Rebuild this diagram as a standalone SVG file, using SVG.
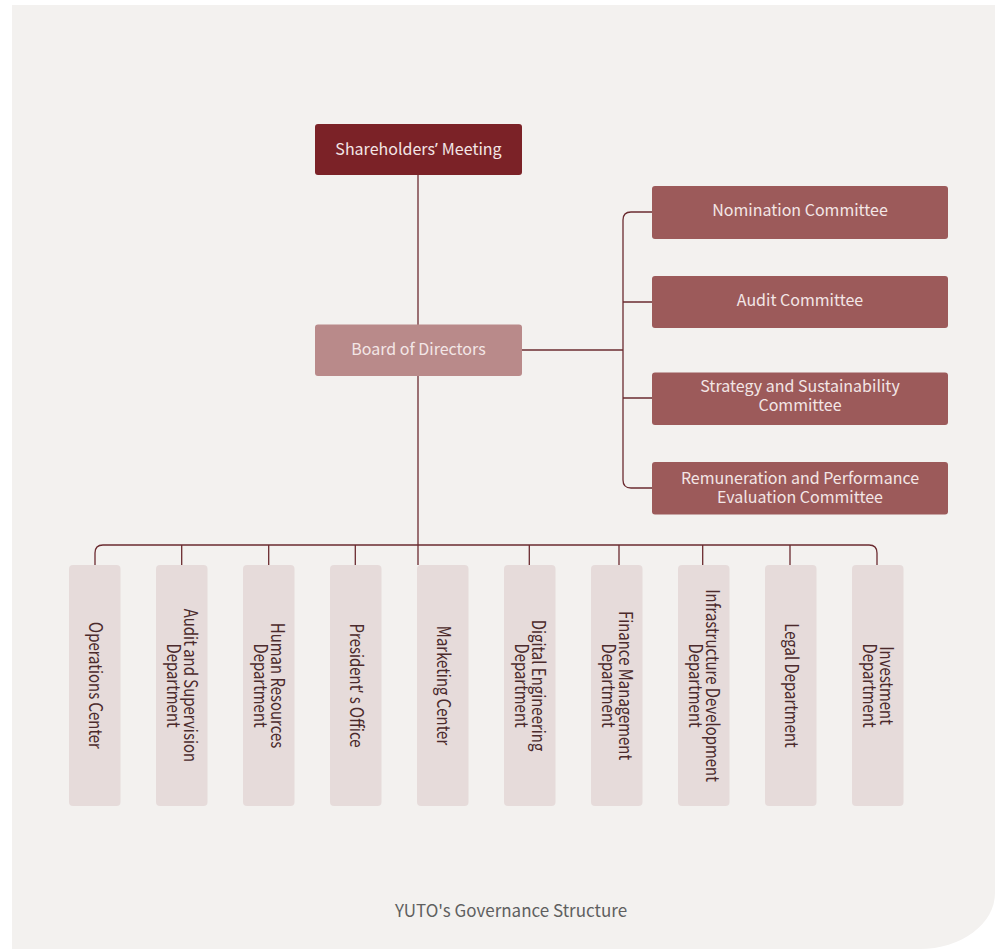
<svg xmlns="http://www.w3.org/2000/svg" width="995" height="949" viewBox="0 0 995 949">
<style>
.bg{fill:#f3f1ef}
.conn{fill:none;stroke:#6b2b30;stroke-width:1.3}
.t{font-family:"Noto Sans CJK SC","Noto Sans",sans-serif;text-anchor:middle}
.q{font-family:"Noto Sans",sans-serif}
.lt{fill:#f3e6e6;font-size:16px}
.dept rect{fill:#e6dbda}
.dt{fill:#4b2a2c;font-size:18px}
.com{fill:#9c5a5a}
</style>
<rect width="995" height="949" fill="#ffffff"/>
<path class="bg" d="M12,5 H995 V893 A75 56 0 0 1 920 949 H12 Z"/>
<g id="connectors">
<path class="conn" d="M418,175 V565"/>
<path class="conn" d="M522,350 H623"/>
<path class="conn" d="M652,212 H631 Q623,212 623,220 V480 Q623,488 631,488 H652"/>
<path class="conn" d="M623,302 H652 M623,398 H652"/>
<path class="conn" d="M95,565 V553 Q95,545 103,545 H869 Q877,545 877,553 V565"/>
<path class="conn" d="M181.7,545 V565 M268.7,545 V565 M355.3,545 V565 M529.3,545 V565 M619,545 V565 M702.7,545 V565 M790,545 V565"/>
</g>
<g id="shareholders">
<rect x="315" y="124" width="207" height="51" rx="3" fill="#7b2227"/>
<text class="t lt" x="418.5" y="154.5">Shareholders<tspan class="q">’ </tspan> Meeting</text>
</g>
<g id="board">
<rect x="315" y="324.5" width="207" height="51.5" rx="3" fill="#b98a8a"/>
<text class="t lt" x="418.5" y="355">Board of Directors</text>
</g>
<g id="nomination">
<rect class="com" x="652" y="186" width="296" height="53" rx="3"/>
<text class="t lt" x="800" y="216">Nomination Committee</text>
</g>
<g id="audit-committee">
<rect class="com" x="652" y="276" width="296" height="52" rx="3"/>
<text class="t lt" x="800" y="305.5">Audit Committee</text>
</g>
<g id="strategy">
<rect class="com" x="652" y="372.5" width="296" height="52.5" rx="3"/>
<text class="t lt" x="800" y="391.5">Strategy and Sustainability</text>
<text class="t lt" x="800" y="410.5">Committee</text>
</g>
<g id="remuneration">
<rect class="com" x="652" y="462" width="296" height="52.5" rx="3"/>
<text class="t lt" x="800" y="484">Remuneration and Performance</text>
<text class="t lt" x="800" y="502.5">Evaluation Committee</text>
</g>
<g id="operations" class="dept">
<rect x="69" y="565" width="51.5" height="241" rx="4"/>
<text class="t dt" transform="translate(94.75,685.5) rotate(90) scale(0.83,1)" y="6">Operations Center</text>
</g>
<g id="audit-dept" class="dept">
<rect x="156" y="565" width="51.5" height="241" rx="4"/>
<text class="t dt" transform="translate(181.75,685.5) rotate(90) scale(0.83,1)" y="-2.5">Audit and Supervision</text>
<text class="t dt" transform="translate(181.75,685.5) rotate(90) scale(0.83,1)" y="14.5">Department</text>
</g>
<g id="hr" class="dept">
<rect x="243" y="565" width="51.5" height="241" rx="4"/>
<text class="t dt" transform="translate(268.75,685.5) rotate(90) scale(0.83,1)" y="-2.5">Human Resources</text>
<text class="t dt" transform="translate(268.75,685.5) rotate(90) scale(0.83,1)" y="14.5">Department</text>
</g>
<g id="president" class="dept">
<rect x="330" y="565" width="51.5" height="241" rx="4"/>
<text class="t dt" transform="translate(355.75,685.5) rotate(90) scale(0.83,1)" y="6">President<tspan class="q">’ </tspan>s Office</text>
</g>
<g id="marketing" class="dept">
<rect x="417" y="565" width="51.5" height="241" rx="4"/>
<text class="t dt" transform="translate(442.75,685.5) rotate(90) scale(0.83,1)" y="6">Marketing Center</text>
</g>
<g id="digital" class="dept">
<rect x="504" y="565" width="51.5" height="241" rx="4"/>
<text class="t dt" transform="translate(529.75,685.5) rotate(90) scale(0.83,1)" y="-2.5">Digital Engineering</text>
<text class="t dt" transform="translate(529.75,685.5) rotate(90) scale(0.83,1)" y="14.5">Department</text>
</g>
<g id="finance" class="dept">
<rect x="591" y="565" width="51.5" height="241" rx="4"/>
<text class="t dt" transform="translate(616.75,685.5) rotate(90) scale(0.83,1)" y="-2.5">Finance Management</text>
<text class="t dt" transform="translate(616.75,685.5) rotate(90) scale(0.83,1)" y="14.5">Department</text>
</g>
<g id="infrastructure" class="dept">
<rect x="678" y="565" width="51.5" height="241" rx="4"/>
<text class="t dt" transform="translate(703.75,685.5) rotate(90) scale(0.83,1)" y="-2.5">Infrastructure Development</text>
<text class="t dt" transform="translate(703.75,685.5) rotate(90) scale(0.83,1)" y="14.5">Department</text>
</g>
<g id="legal" class="dept">
<rect x="765" y="565" width="51.5" height="241" rx="4"/>
<text class="t dt" transform="translate(790.75,685.5) rotate(90) scale(0.83,1)" y="6">Legal Department</text>
</g>
<g id="investment" class="dept">
<rect x="852" y="565" width="51.5" height="241" rx="4"/>
<text class="t dt" transform="translate(877.75,685.5) rotate(90) scale(0.83,1)" y="-2.5">Investment</text>
<text class="t dt" transform="translate(877.75,685.5) rotate(90) scale(0.83,1)" y="14.5">Department</text>
</g>
<g id="caption">
<text class="t" x="511" y="916.5" font-size="17" fill="#5f5f5f">YUTO's Governance Structure</text>
</g>
</svg>
